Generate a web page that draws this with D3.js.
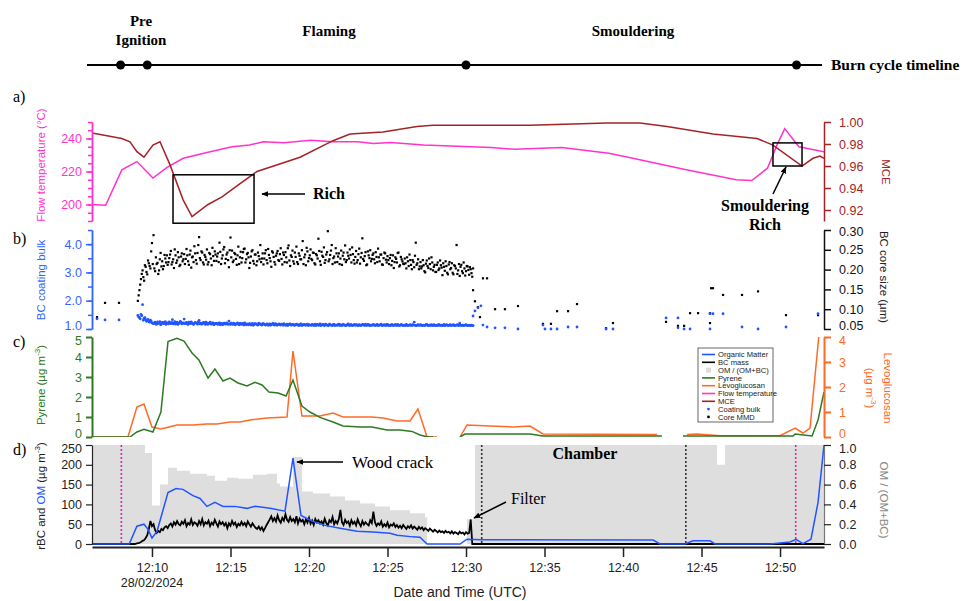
<html>

<script src='https://d3js.org/d3.v7.min.js'></script>

<style>
body {margin: 0; background: white;}
text {font-family: "Liberation Sans", Arial, sans-serif;}
.serif {font-family: "Liberation Serif", "Times New Roman", serif;}
</style>

<body>
<svg width=974 height=601></svg>

<script>

// all times are minutes after 12:00 on 28/02/2024

// a) flow temperature (°C) and MCE
var flowTemp = [[6.18,200],[7.05,199.5],[8.08,221],[9.04,226],[10.06,216],[10.96,222.5],[11.99,228],[13.5,231.5],
  [15.1,235],[16.2,236],[17.1,238],[18.4,237.5],[20.1,239],[21.5,238],[23.1,238],[24.1,237],[25.2,237.5],[27.3,236],
  [31.6,234.5],[33.1,233.5],[36.1,234.5],[39.1,231],[40.4,228.5],[43.8,221.5],[47.2,215],[48.2,214.5],[49.2,222],
  [49.8,236],[50.3,246],[51.2,235],[52.8,232]];

var mce = [[6.18,0.990],[8.08,0.985],[8.6,0.982],[9.04,0.973],[9.49,0.968],[10.06,0.979],[10.51,0.982],[11.15,0.961],
  [11.99,0.929],[12.55,0.914],[13.57,0.925],[14.46,0.932],[15.61,0.944],[16.69,0.955],[19.43,0.968],[21.53,0.983],
  [22.61,0.989],[24.71,0.991],[26.88,0.996],[27.9,0.997],[31.53,0.997],[34.08,0.997],[38.98,0.999],[41.08,0.999],
  [42.8,0.996],[45.73,0.989],[48.54,0.985],[49.55,0.979],[51.4,0.960],[52.1,0.967],[52.55,0.969],[52.8,0.967]];

// b) dense part: two interleaved sets, each every 0.1 min (from 12:09:06 and 12:09:09)
var denseStart = 9.1, denseStep = 0.1, denseOffset = 0.05;
var coreSize = [
  0.121,0.148,0.176,0.198,0.172,0.207,0.188,0.216,0.203,0.267,
  0.287,0.196,0.214,0.189,0.226,0.208,0.201,0.237,0.218,0.212,
  0.229,0.247,0.219,0.204,0.236,0.223,0.231,0.212,0.241,0.226,
  0.214,0.252,0.221,0.238,0.205,0.233,0.259,0.224,0.242,0.282,
  0.224,0.243,0.213,0.232,0.251,0.219,0.239,0.211,0.234,0.246,
  0.222,0.241,0.268,0.214,0.236,0.257,0.227,0.243,0.206,0.281,
  0.248,0.223,0.239,0.212,0.258,0.231,0.218,0.244,0.253,0.226,
  0.242,0.204,0.233,0.249,0.215,0.238,0.221,0.234,0.262,0.228,
  0.213,0.241,0.224,0.252,0.229,0.207,0.243,0.219,0.235,0.247,
  0.222,0.254,0.213,0.237,0.244,0.218,0.261,0.209,0.232,0.221,
  0.243,0.258,0.214,0.235,0.226,0.272,0.231,0.211,0.246,0.229,
  0.251,0.224,0.242,0.213,0.236,0.278,0.221,0.245,0.232,0.217,
  0.238,0.297,0.226,0.248,0.214,0.233,0.254,0.219,0.241,0.228,
  0.212,0.243,0.261,0.224,0.235,0.251,0.218,0.239,0.215,0.247,
  0.224,0.253,0.231,0.279,0.222,0.244,0.213,0.236,0.249,0.227,
  0.241,0.216,0.232,0.253,0.221,0.238,0.212,0.243,0.225,0.234,
  0.214,0.237,0.222,0.204,0.231,0.218,0.243,0.211,0.226,0.215,
  0.228,0.203,0.221,0.238,0.212,0.224,0.206,0.268,0.216,0.201,
  0.219,0.208,0.211,0.193,0.223,0.204,0.214,0.231,0.198,0.212,
  0.194,0.218,0.203,0.211,0.186,0.207,0.221,0.192,0.213,0.201,
  0.216,0.188,0.209,0.262,0.198,0.184,0.212,0.191,0.203,0.196,
  0.208,0.187,0.201,0.182];
var coreSize2 = [
  0.135,0.162,0.189,0.181,0.211,0.194,0.223,0.209,0.246,0.214,
  0.203,0.231,0.217,0.198,0.242,0.221,0.209,0.228,0.236,0.219,
  0.238,0.213,0.226,0.251,0.217,0.244,0.209,0.233,0.221,0.239,
  0.227,0.236,0.212,0.248,0.231,0.219,0.241,0.215,0.262,0.229,
  0.246,0.218,0.237,0.225,0.213,0.242,0.228,0.255,0.222,0.238,
  0.233,0.219,0.245,0.228,0.251,0.216,0.238,0.224,0.249,0.231,
  0.219,0.242,0.227,0.236,0.214,0.245,0.229,0.252,0.218,0.239,
  0.231,0.217,0.246,0.222,0.238,0.211,0.243,0.226,0.219,0.241,
  0.228,0.249,0.216,0.237,0.221,0.246,0.232,0.213,0.241,0.224,
  0.239,0.227,0.243,0.219,0.231,0.254,0.223,0.236,0.248,0.215,
  0.232,0.219,0.241,0.226,0.249,0.214,0.238,0.255,0.221,0.236,
  0.227,0.243,0.216,0.239,0.228,0.247,0.212,0.235,0.256,0.224,
  0.244,0.221,0.237,0.262,0.229,0.218,0.241,0.233,0.214,0.248,
  0.235,0.226,0.219,0.243,0.228,0.237,0.256,0.224,0.232,0.218,
  0.239,0.215,0.242,0.227,0.234,0.211,0.246,0.229,0.221,0.237,
  0.226,0.244,0.219,0.231,0.238,0.213,0.229,0.241,0.218,0.224,
  0.229,0.211,0.236,0.219,0.227,0.242,0.208,0.232,0.221,0.214,
  0.216,0.231,0.209,0.224,0.201,0.219,0.235,0.212,0.226,0.208,
  0.203,0.224,0.196,0.215,0.209,0.228,0.201,0.218,0.207,0.194,
  0.212,0.199,0.223,0.205,0.216,0.197,0.209,0.188,0.219,0.204,
  0.192,0.211,0.203,0.189,0.214,0.207,0.196,0.218,0.185,0.209,
  0.199,0.206,0.191,0.203];

var coatBulk = [
  1.48,1.41,1.52,1.86,1.38,1.33,1.29,1.26,1.31,1.22,
  1.19,1.24,1.17,1.21,1.26,1.18,1.23,1.20,1.16,1.22,
  1.25,1.19,1.33,1.21,1.17,1.24,1.20,1.27,1.18,1.22,
  1.19,1.23,1.16,1.21,1.25,1.18,1.20,1.22,1.17,1.30,
  1.21,1.18,1.23,1.16,1.20,1.19,1.24,1.17,1.21,1.18,
  1.20,1.16,1.22,1.18,1.15,1.21,1.17,1.19,1.28,1.16,
  1.18,1.21,1.15,1.19,1.17,1.20,1.16,1.18,1.22,1.15,
  1.17,1.19,1.14,1.20,1.16,1.18,1.15,1.21,1.17,1.14,
  1.19,1.15,1.17,1.13,1.18,1.16,1.20,1.14,1.17,1.15,
  1.18,1.14,1.16,1.19,1.13,1.17,1.15,1.18,1.14,1.16,
  1.13,1.17,1.15,1.12,1.18,1.14,1.16,1.13,1.17,1.15,
  1.14,1.16,1.12,1.17,1.15,1.13,1.18,1.14,1.16,1.12,
  1.15,1.13,1.17,1.14,1.12,1.16,1.14,1.13,1.17,1.15,
  1.12,1.16,1.14,1.13,1.18,1.12,1.15,1.13,1.16,1.14,
  1.13,1.15,1.12,1.16,1.14,1.17,1.13,1.15,1.12,1.14,
  1.16,1.13,1.15,1.12,1.14,1.17,1.13,1.15,1.12,1.16,
  1.14,1.12,1.15,1.13,1.16,1.12,1.14,1.13,1.15,1.12,
  1.13,1.16,1.12,1.14,1.13,1.15,1.24,1.12,1.14,1.13,
  1.15,1.12,1.14,1.13,1.16,1.12,1.14,1.15,1.12,1.13,
  1.14,1.12,1.15,1.13,1.12,1.16,1.13,1.14,1.12,1.15,
  1.13,1.15,1.12,1.14,1.13,1.21,1.12,1.14,1.13,1.15,
  1.12,1.14,1.13,1.12];
var coatBulk2 = [
  1.42,1.36,1.47,1.31,1.40,1.27,1.34,1.24,1.28,1.20,
  1.22,1.17,1.25,1.20,1.15,1.23,1.19,1.26,1.21,1.18,
  1.20,1.23,1.18,1.26,1.22,1.16,1.21,1.24,1.19,1.35,
  1.22,1.18,1.24,1.19,1.21,1.16,1.23,1.20,1.25,1.18,
  1.17,1.22,1.19,1.24,1.16,1.21,1.18,1.22,1.15,1.20,
  1.18,1.21,1.15,1.20,1.17,1.19,1.22,1.16,1.18,1.21,
  1.16,1.19,1.17,1.22,1.15,1.18,1.20,1.14,1.19,1.17,
  1.15,1.18,1.16,1.13,1.19,1.17,1.14,1.18,1.15,1.19,
  1.16,1.14,1.18,1.15,1.13,1.17,1.15,1.19,1.13,1.16,
  1.15,1.17,1.13,1.16,1.14,1.12,1.17,1.14,1.16,1.13,
  1.16,1.14,1.13,1.17,1.12,1.15,1.14,1.16,1.12,1.14,
  1.13,1.15,1.14,1.12,1.16,1.14,1.12,1.15,1.13,1.17,
  1.14,1.12,1.15,1.13,1.16,1.12,1.14,1.15,1.12,1.13,
  1.15,1.13,1.12,1.16,1.13,1.15,1.12,1.14,1.13,1.15,
  1.12,1.14,1.13,1.15,1.12,1.13,1.16,1.12,1.14,1.13,
  1.14,1.12,1.16,1.13,1.15,1.12,1.14,1.13,1.16,1.12,
  1.13,1.15,1.12,1.14,1.13,1.16,1.12,1.15,1.13,1.14,
  1.12,1.14,1.13,1.15,1.12,1.14,1.13,1.12,1.15,1.13,
  1.14,1.13,1.12,1.15,1.13,1.14,1.12,1.13,1.15,1.12,
  1.13,1.15,1.12,1.14,1.13,1.12,1.15,1.13,1.14,1.12,
  1.14,1.12,1.13,1.15,1.12,1.14,1.13,1.12,1.14,1.13,
  1.13,1.12,1.14,1.12];

// b) sparse points outside the dense part
var coreSparse = [[6.50,0.08],[7.01,0.116],[7.90,0.116],[30.45,0.148],[30.57,0.12],[30.76,0.105],[30.89,0.08],
  [31.08,0.178],[31.34,0.178],[31.85,0.10],[32.48,0.10],[33.31,0.108],[34.90,0.063],[35.41,0.063],[35.80,0.095],
  [36.50,0.095],[37.07,0.113],[38.92,0.052],[39.36,0.065],[42.74,0.068],[43.50,0.058],[43.89,0.058],[44.27,0.09],
  [44.78,0.09],[45.54,0.09],[45.54,0.065],[45.61,0.153],[45.73,0.153],[46.37,0.136],[47.58,0.136],[48.60,0.145],
  [50.38,0.085],[52.42,0.085]];
var coatSparse = [[6.50,1.36],[7.01,1.32],[7.90,1.32],[30.45,1.46],[30.57,1.64],[30.76,1.75],[30.95,1.82],
  [31.08,1.14],[31.34,1.07],[31.85,1.04],[32.48,1.04],[33.31,1.0],[34.90,1.14],[35.03,1.0],[35.41,1.0],[35.80,1.0],
  [36.50,1.07],[37.07,1.07],[38.92,1.0],[39.36,1.0],[42.74,1.39],[43.50,1.39],[43.50,1.04],[43.89,1.0],[44.27,1.0],
  [45.54,1.54],[45.54,1.0],[45.73,1.54],[46.37,1.54],[47.58,1.07],[48.60,1.0],[50.38,1.07],[52.42,1.54]];

// c) pyrene and levoglucosan (µg m-3), null = no data
var pyrene = [[6.18,0],[8.6,0],[9.04,0.25],[9.49,0.38],[10.06,0.25],[10.57,1.25],[11.02,4.77],[11.59,4.93],[12.04,4.8],
  [12.55,4.2],[12.99,3.85],[13.57,2.95],[14.01,3.4],[14.52,2.8],[14.97,2.95],[15.48,2.7],[16.05,2.55],[16.56,2.73],
  [17.01,2.6],[17.45,2.25],[18.03,2.2],[18.54,2.05],[18.98,2.85],[19.55,1.55],[20.06,1.25],[20.7,0.98],[21.53,0.75],
  [22.17,0.55],[23.25,0.5],[24.01,0.5],[24.97,0.35],[25.8,0.35],[26.56,0.28],[27.07,0.1],[27.58,0],[27.9,0],[28.0,null],
  [29.62,0],[29.94,0.15],[34.08,0.15],[34.9,0.05],[42.48,0.05],[42.6,null],[43.82,0.05],[50.83,0.05],[50.96,0.15],
  [52.04,0.05],[52.42,0.85],[52.8,2.25]];
var levo = [[6.18,0],[8.47,0],[9.04,1.2],[9.49,1.32],[10.0,0.4],[10.57,0.32],[11.59,0.48],[12.61,0.48],[13.5,0.52],
  [14.14,0.52],[14.97,0.6],[15.61,0.6],[16.24,0.68],[17.32,0.76],[18.6,0.8],[18.98,3.44],[19.55,0.84],[20.7,0.84],
  [21.53,0.96],[22.17,0.8],[24.01,0.8],[24.71,0.76],[25.61,0.64],[26.43,0.64],[26.94,1.12],[27.52,0],[28.15,0],[28.3,null],
  [29.62,0],[30.06,0.48],[31.53,0.44],[33.0,0.4],[34.08,0.44],[34.9,0.12],[42.17,0.1],[42.3,null],[44.08,0.1],
  [44.71,0.12],[46.18,0.05],[50.0,0.05],[50.96,0.36],[51.46,0.16],[51.91,0.36],[52.1,1.6],[52.45,3.9],[52.55,4.4],[52.8,4.4]];

// d) OM / (OM+BC), step after each time
var omFrac = [[6.18,1.0],[9.55,0.92],[10.0,0.39],[10.51,0.60],[11.02,0.77],[11.59,0.74],[12.42,0.71],[13.5,0.69],
  [14.01,0.64],[14.78,0.67],[15.48,0.66],[16.43,0.70],[17.32,0.71],[17.96,0.61],[18.15,0.58],[18.98,0.88],[19.55,0.53],
  [20.25,0.51],[21.34,0.48],[22.29,0.44],[23.25,0.41],[24.2,0.38],[25.16,0.34],[26.43,0.31],[27.39,0.27],[27.52,0],
  [30.06,0.25],[30.57,1.0],[45.99,0.8],[46.5,1.0],[52.8,1.0]];

// d) organic matter (µg m-3)
var organic = [[6.18,0],[8.55,0],[9.04,45],[9.49,50],[9.75,37],[10.0,15],[10.32,32],[11.02,130],[11.53,140],[11.97,138],
  [12.61,122],[13.06,115],[13.5,95],[14.01,105],[14.52,95],[15.29,95],[16.05,90],[16.56,95],[17.52,90],[18.47,83],
  [18.98,217],[19.49,72],[20.19,58],[21.02,47],[21.97,40],[23.06,32],[24.08,30],[25.16,27],[25.61,22],[26.62,18],
  [27.07,17],[27.52,0],[29.62,0],[30.06,12],[31.0,11],[33.0,11],[41.92,10],[42.36,0],[43.95,0],[44.46,8],[45.54,8],
  [45.86,0],[49.36,0],[50.64,5],[51.02,12],[51.46,1],[51.97,12],[52.42,105],[52.8,250]];

// d) BC mass (µg m-3) sampled every 0.1 min from 12:08:48
var bcStart = 8.8, bcStep = 0.1;
var bcMass = [
  0,0,1,2,3,5,8,10,15,22,
  38,58,45,50,35,28,33,30,38,35,
  42,45,40,48,52,44,55,49,58,50,
  47,56,51,60,45,53,49,62,48,55,
  52,46,58,50,63,47,55,51,59,45,
  54,49,61,52,44,57,50,55,47,53,
  40,52,46,58,49,54,43,51,47,56,
  48,53,45,57,50,44,52,46,41,38,
  44,36,42,33,40,48,55,62,70,58,
  65,57,72,60,54,66,59,75,61,56,
  68,58,63,55,70,52,64,57,61,50,
  62,54,66,51,59,48,63,55,60,52,
  57,49,64,53,47,60,55,68,50,58,
  52,63,86,55,48,61,53,57,46,60,
  51,56,47,62,52,45,58,49,55,50,
  47,60,53,82,55,46,52,48,57,44,
  50,45,54,42,49,46,52,43,48,41,
  46,40,48,43,38,45,41,47,39,44,
  40,36,43,38,42,35,40,37,33,39,
  35,31,36,33,29,34,30,32,28,33,
  29,31,27,32,26,30,28,25,31,27,
  29,24,30,26,28,62,0];
var bcBefore = [[6.18,0]];
var bcAfter = [[30.5,0],[52.8,0]];

// burn cycle markers and dotted lines
var phaseTimes = [8.0, 9.7, 30.0, 51.05];
var magentaLines = [8.05, 51.0];
var blackLines = [31.0, 44.0];

var legendLabels = ["Organic Matter","BC mass","OM / (OM+BC)","Pyrene","Levoglucosan","Flow temperature","MCE","Coating bulk","Core MMD"];
var legendColors = ["#2255ff","#000000","#dddddd","#2d7a22","#ff6a26","#ff33cc","#a52328","#2255ff","#000000"];
var legendKinds  = ["line","line","box","line","line","line","line","dot","dot"];

var base = new Date(2024, 1, 28, 12, 0, 0);
function t(m) { return new Date(base.getTime() + m * 60000); }

var svg = d3.select("svg");

var x = d3.scaleTime().domain([t(6.18), t(52.8)]).range([92, 824]);

var yTemp = d3.scaleLinear().domain([190, 250]).range([221, 122]);
var yMce  = d3.scaleLinear().domain([0.91, 1.0]).range([221, 122]);
var yCoat = d3.scaleLinear().domain([1.0, 4.5]).range([329, 230]);
var yCore = d3.scaleLinear().domain([0.05, 0.30]).range([329, 230]);
var yPyr  = d3.scaleLinear().domain([0, 5]).range([437, 337]);
var yLevo = d3.scaleLinear().domain([0, 4]).range([437, 337]);
var yMass = d3.scaleLinear().domain([0, 250]).range([544, 445]);
var yFrac = d3.scaleLinear().domain([0, 1]).range([544, 445]);

var defs = svg.append("defs");
defs.append("marker").attr("id", "arrow").attr("viewBox", "0 0 10 10")
    .attr("refX", 9).attr("refY", 5).attr("markerWidth", 7).attr("markerHeight", 7)
    .attr("orient", "auto-start-reverse").attr("markerUnits", "userSpaceOnUse")
  .append("path").attr("d", "M0,1 L10,5 L0,9 z").attr("fill", "black");

[["clipA", 122, 221], ["clipB", 228, 331], ["clipC", 337, 437], ["clipD", 445, 545]].forEach(function(c) {
  defs.append("clipPath").attr("id", c[0]).append("rect")
      .attr("x", 92).attr("y", c[1]).attr("width", 732).attr("height", c[2] - c[1]);
});

// axis helpers
function styleAxis(g, color, width, size) {
  g.attr("font-family", "Liberation Sans, Arial, sans-serif").attr("font-size", size || 12.5);
  g.selectAll("path, line").attr("stroke", color).attr("stroke-width", width);
  g.selectAll("text").attr("fill", color);
}
// shift the label of one tick a little so neighbouring panels don't collide
function nudge(g, value, dy) {
  g.selectAll(".tick").filter(function(d) { return Math.abs(d - value) < 1e-9; })
    .select("text").attr("transform", "translate(0," + dy + ")");
}
function leftAxis(scale, major, minor, fmt, color, width) {
  if (minor) {
    var m = svg.append("g").attr("transform", "translate(92,0)")
      .call(d3.axisLeft(scale).tickValues(minor).tickSize(4).tickSizeOuter(0).tickFormat(""));
    styleAxis(m, color, width);
  }
  var g = svg.append("g").attr("transform", "translate(92,0)")
    .call(d3.axisLeft(scale).tickValues(major).tickSize(6).tickSizeOuter(0).tickPadding(4).tickFormat(fmt));
  styleAxis(g, color, width);
  return g;
}
function rightAxis(scale, major, fmt, color, width, lineColor) {
  var g = svg.append("g").attr("transform", "translate(824,0)")
    .call(d3.axisRight(scale).tickValues(major).tickSize(7).tickSizeOuter(0).tickPadding(8).tickFormat(fmt));
  styleAxis(g, color, width);
  if (lineColor) g.select(".domain").attr("stroke", lineColor);
  return g;
}
function vLabel(txt, cx, cy, color, angle) {
  return svg.append("text").text(txt)
    .attr("transform", "translate(" + cx + "," + cy + ") rotate(" + angle + ")")
    .attr("text-anchor", "middle").attr("fill", color).style("font-size", "11.5px");
}
function unitLabel(parts, cx, cy, angle) {
  var txt = svg.append("text")
    .attr("transform", "translate(" + cx + "," + cy + ") rotate(" + angle + ")")
    .attr("text-anchor", "middle").style("font-size", "11.5px");
  parts.forEach(function(p) {
    var ts = txt.append("tspan").text(p[0]).attr("fill", p[1]);
    if (p[2] == "sup") ts.attr("dy", -5).style("font-size", "8px");
    if (p[2] == "down") ts.attr("dy", 5);
  });
  return txt;
}

var lineGen = function(ys) {
  return d3.line().defined(function(d) { return d[1] !== null; })
    .x(function(d) { return x(t(d[0])); })
    .y(function(d) { return ys(d[1]); });
};

// ---------- burn cycle timeline ----------
svg.append("line").attr("x1", 87).attr("x2", 822).attr("y1", 65).attr("y2", 65)
  .attr("stroke", "black").attr("stroke-width", 2);
svg.selectAll(".phase").data(phaseTimes).enter().append("circle")
  .attr("cx", function(d) { return x(t(d)); }).attr("cy", 65).attr("r", 4.5).attr("fill", "black");
var phaseText = [["Pre", 141, 26], ["Ignition", 141, 45], ["Flaming", 329, 36], ["Smouldering", 633, 36]];
phaseText.forEach(function(p) {
  svg.append("text").attr("class", "serif").text(p[0]).attr("x", p[1]).attr("y", p[2])
    .attr("text-anchor", "middle").style("font-weight", "bold").style("font-size", "15px");
});
svg.append("text").attr("class", "serif").text("Burn cycle timeline").attr("x", 831).attr("y", 70)
  .style("font-weight", "bold").style("font-size", "15.5px");

// panel letters
[["a)", 102], ["b)", 244], ["c)", 347], ["d)", 455]].forEach(function(p) {
  svg.append("text").attr("class", "serif").text(p[0]).attr("x", 13).attr("y", p[1]).style("font-size", "16px");
});

// ---------- a) ----------
var gA = svg.append("g").attr("clip-path", "url(#clipA)");
gA.append("path").datum(flowTemp).attr("fill", "none").attr("stroke", "#ff33cc").attr("stroke-width", 1.5).attr("d", lineGen(yTemp));
gA.append("path").datum(mce).attr("fill", "none").attr("stroke", "#a52328").attr("stroke-width", 1.5).attr("d", lineGen(yMce));

leftAxis(yTemp, [200, 220, 240], d3.range(190, 251, 5), d3.format("d"), "#ff33cc", 1.5);
rightAxis(yMce, [0.92, 0.94, 0.96, 0.98, 1.00], d3.format(".2f"), "#a52328", 1.5);
vLabel("Flow temperature (°C)", 45, 165, "#ff33cc", -90);
vLabel("MCE", 882, 172, "#a52328", 90);

// Rich boxes
svg.append("rect").attr("x", x(t(11.34))).attr("y", yMce(0.952))
  .attr("width", x(t(16.5)) - x(t(11.34))).attr("height", yMce(0.908) - yMce(0.952))
  .attr("fill", "none").attr("stroke", "black").attr("stroke-width", 1.5);
svg.append("line").attr("x1", 305).attr("y1", 194).attr("x2", 262).attr("y2", 194)
  .attr("stroke", "black").attr("stroke-width", 1.5).attr("marker-end", "url(#arrow)");
svg.append("text").attr("class", "serif").text("Rich").attr("x", 313).attr("y", 199)
  .style("font-weight", "bold").style("font-size", "16px");

svg.append("rect").attr("x", x(t(49.55))).attr("y", yMce(0.981))
  .attr("width", x(t(51.4)) - x(t(49.55))).attr("height", yMce(0.960) - yMce(0.981))
  .attr("fill", "none").attr("stroke", "black").attr("stroke-width", 1.5);
svg.append("line").attr("x1", 773).attr("y1", 194).attr("x2", 786).attr("y2", 167)
  .attr("stroke", "black").attr("stroke-width", 1.5).attr("marker-end", "url(#arrow)");
svg.append("text").attr("class", "serif").text("Smouldering").attr("x", 765).attr("y", 211)
  .attr("text-anchor", "middle").style("font-weight", "bold").style("font-size", "16px");
svg.append("text").attr("class", "serif").text("Rich").attr("x", 765).attr("y", 230)
  .attr("text-anchor", "middle").style("font-weight", "bold").style("font-size", "16px");

// ---------- b) ----------
var gB = svg.append("g").attr("clip-path", "url(#clipB)");
function dense(vals, off) {
  return vals.map(function(v, i) { return [denseStart + off + i * denseStep, v]; });
}
var coreAll = dense(coreSize, 0).concat(dense(coreSize2, denseOffset)).concat(coreSparse);
var coatAll = dense(coatBulk, 0).concat(dense(coatBulk2, denseOffset)).concat(coatSparse);

gB.selectAll(".core").data(coreAll).enter().append("rect")
  .attr("x", function(d) { return x(t(d[0])) - 1.1; })
  .attr("y", function(d) { return yCore(d[1]) - 1.1; })
  .attr("width", 2.2).attr("height", 2.2).attr("fill", "black");
gB.selectAll(".coat").data(coatAll).enter().append("circle")
  .attr("cx", function(d) { return x(t(d[0])); })
  .attr("cy", function(d) { return yCoat(d[1]); })
  .attr("r", 1.4).attr("fill", "#2255ff");

var axB = leftAxis(yCoat, [1, 2, 3, 4], d3.range(1, 4.51, 0.5), d3.format(".1f"), "#3366ff", 1.5);
nudge(axB, 1, -4);
var axB2 = rightAxis(yCore, [0.05, 0.10, 0.15, 0.20, 0.25, 0.30], d3.format(".2f"), "#111", 1.5);
nudge(axB2, 0.05, -4);
nudge(axB2, 0.30, 1);
vLabel("BC coating bulk", 45, 280, "#3366ff", -90);
vLabel("BC core size (µm)", 880, 277, "#222", 90);

// ---------- c) ----------
var gC = svg.append("g").attr("clip-path", "url(#clipC)");
gC.append("path").datum(levo).attr("fill", "none").attr("stroke", "#ff6a26").attr("stroke-width", 1.5).attr("d", lineGen(yLevo));
gC.append("path").datum(pyrene).attr("fill", "none").attr("stroke", "#2d7a22").attr("stroke-width", 1.5).attr("d", lineGen(yPyr));

var axC = leftAxis(yPyr, [0, 1, 2, 3, 4, 5], null, d3.format("d"), "#2d7a22", 2);
nudge(axC, 5, 3); nudge(axC, 0, -4);
var axC2 = rightAxis(yLevo, [0, 1, 2, 3, 4], d3.format("d"), "#ff6a26", 2);
nudge(axC2, 4, 3); nudge(axC2, 0, -4);
unitLabel([["Pyrene (µg m", "#2d7a22"], ["-3", "#2d7a22", "sup"], [")", "#2d7a22", "down"]], 45, 385, -90);
vLabel("Levoglucosan", 884, 388, "#ff6a26", 90);
unitLabel([["(µg m", "#ff6a26"], ["-3", "#ff6a26", "sup"], [")", "#ff6a26", "down"]], 866, 388, 90);

// legend
var lg = svg.append("g").attr("transform", "translate(698,348)");
lg.append("rect").attr("width", 75).attr("height", 74).attr("fill", "white").attr("stroke", "#666").attr("stroke-width", 1);
legendLabels.forEach(function(lab, i) {
  var yy = 6.5 + i * 7.8;
  if (legendKinds[i] == "line")
    lg.append("line").attr("x1", 4).attr("x2", 17).attr("y1", yy).attr("y2", yy)
      .attr("stroke", legendColors[i]).attr("stroke-width", 1.6);
  else if (legendKinds[i] == "box")
    lg.append("rect").attr("x", 8).attr("y", yy - 2.5).attr("width", 5).attr("height", 5).attr("fill", legendColors[i]);
  else
    lg.append("circle").attr("cx", 10.5).attr("cy", yy).attr("r", 1.4).attr("fill", legendColors[i]);
  lg.append("text").text(lab).attr("x", 20).attr("y", yy + 2.6).attr("fill", "#222").style("font-size", "7.6px");
});

// ---------- d) ----------
var gD = svg.append("g").attr("clip-path", "url(#clipD)");
gD.append("path").datum(omFrac).attr("fill", "#dedede")
  .attr("d", d3.area().curve(d3.curveStepAfter)
    .x(function(d) { return x(t(d[0])); })
    .y0(yFrac(0)).y1(function(d) { return yFrac(d[1]); }));

gD.selectAll(".mline").data(magentaLines).enter().append("line")
  .attr("x1", function(d) { return x(t(d)); }).attr("x2", function(d) { return x(t(d)); })
  .attr("y1", 445).attr("y2", 544).attr("stroke", "#d62aa8").attr("stroke-width", 1.6).attr("stroke-dasharray", "2,2");
gD.selectAll(".bline").data(blackLines).enter().append("line")
  .attr("x1", function(d) { return x(t(d)); }).attr("x2", function(d) { return x(t(d)); })
  .attr("y1", 445).attr("y2", 544).attr("stroke", "#333").attr("stroke-width", 1.6).attr("stroke-dasharray", "2,2");

var bcAll = bcBefore.concat(bcMass.map(function(v, i) { return [bcStart + i * bcStep, v]; })).concat(bcAfter);
gD.append("path").datum(bcAll).attr("fill", "none").attr("stroke", "black").attr("stroke-width", 1.8).attr("d", lineGen(yMass));
gD.append("path").datum(organic).attr("fill", "none").attr("stroke", "#2255ff").attr("stroke-width", 1.5).attr("d", lineGen(yMass));

var axD = leftAxis(yMass, [0, 50, 100, 150, 200, 250], null, d3.format("d"), "#222", 1.2);
nudge(axD, 250, 3);
var axD2 = rightAxis(yFrac, [0, 0.2, 0.4, 0.6, 0.8, 1.0], d3.format(".1f"), "#222", 1.2, "#777");
nudge(axD2, 1, 3);
unitLabel([["rBC and ", "#222"], ["OM", "#2255ff"], [" (µg m", "#222"], ["-3", "#222", "sup"], [")", "#222", "down"]], 45, 496, -90);
vLabel("OM / (OM+BC)", 880, 500, "#888", 90);

// x axis
var gx = svg.append("g").attr("transform", "translate(0,547)")
  .call(d3.axisBottom(x).ticks(d3.timeMinute.every(5)).tickSize(10).tickSizeOuter(0).tickPadding(6)
    .tickFormat(d3.timeFormat("%H:%M")));
styleAxis(gx, "#222", 1.5, 12.5);
gx.select(".domain").attr("stroke-width", 2);
svg.append("text").text("28/02/2024").attr("x", x(t(10))).attr("y", 587).attr("text-anchor", "middle")
  .attr("fill", "#222").style("font-size", "12.5px");
svg.append("text").text("Date and Time (UTC)").attr("x", 460).attr("y", 597).attr("text-anchor", "middle")
  .attr("fill", "#222").style("font-size", "14px");

// panel d annotations
svg.append("text").attr("class", "serif").text("Chamber").attr("x", 585).attr("y", 459)
  .attr("text-anchor", "middle").style("font-weight", "bold").style("font-size", "16px");
svg.append("line").attr("x1", 343).attr("y1", 462).attr("x2", 297).attr("y2", 462)
  .attr("stroke", "black").attr("stroke-width", 1.5).attr("marker-end", "url(#arrow)");
svg.append("text").attr("class", "serif").text("Wood crack").attr("x", 352).attr("y", 468).style("font-size", "17px");
svg.append("line").attr("x1", 506).attr("y1", 502).attr("x2", 474).attr("y2", 518)
  .attr("stroke", "black").attr("stroke-width", 1.5).attr("marker-end", "url(#arrow)");
svg.append("text").attr("class", "serif").text("Filter").attr("x", 511).attr("y", 504).style("font-size", "16px");

</script>
</body>
</html>
